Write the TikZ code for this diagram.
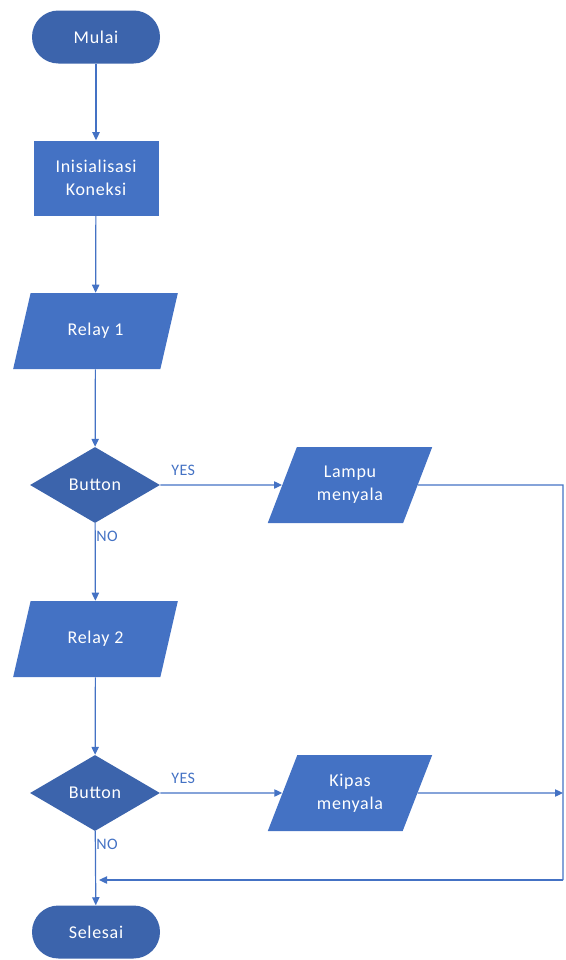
\documentclass[tikz,border=0pt]{standalone}
\usepackage{fontspec}
\setmainfont{Carlito}
\usetikzlibrary{shapes.geometric,arrows.meta}
\definecolor{procblue}{HTML}{4472C4}
\definecolor{darkblue}{HTML}{3C64AC}
\definecolor{lineblue}{HTML}{4472C4}
\tikzset{
  x=0.75pt,y=-0.75pt,
  base/.style={text=white,font=\fontsize{13.5}{17}\selectfont\addfontfeature{LetterSpace=4},align=center,inner sep=0pt},
  term/.style={base,fill=darkblue,rounded corners=19.8pt,minimum width=96pt,minimum height=39.75pt},
  proc/.style={base,fill=procblue,minimum width=93.75pt,minimum height=56.25pt},
  io/.style={base,fill=procblue,trapezium,trapezium left angle=64,trapezium right angle=116,trapezium stretches=true,minimum width=123.75pt,minimum height=57pt},
  dec/.style={base,fill=darkblue,diamond,minimum width=97.5pt,minimum height=57pt},
  conn/.style={draw=lineblue,line width=0.9pt,-{Triangle[length=6pt,width=5.5pt]}},
  line/.style={draw=lineblue,line width=0.9pt},
  lbl/.style={text=lineblue,font=\fontsize{12}{14}\selectfont\addfontfeature{LetterSpace=3},inner sep=0pt,anchor=west}
}
\begin{document}
\begin{tikzpicture}
\useasboundingbox (0,0) rectangle (566,960);
\node[term] (mulai) at (96,37) {Mulai};
\node[proc] (init) at (96,178) {Inisialisasi\\Koneksi};
\node[io] (relay1) at (95.5,331) {Relay 1};
\node[dec] (btn1) at (95,485) {Button};
\node[io] (lampu) at (350,485) {Lampu\\menyala};
\node[io] (relay2) at (95.5,639) {Relay 2};
\node[dec] (btn2) at (95,793) {Button};
\node[io] (kipas) at (350,793) {Kipas\\menyala};
\node[term] (selesai) at (96,932) {Selesai};

\coordinate (r1) at (563,485);
\coordinate (k1) at (563,793);
\coordinate (r2) at (563,880);
\coordinate (m) at (99,880);

\draw[conn] (mulai) -- (init);
\draw[conn] (init) -- (relay1);
\draw[conn] (relay1) -- (btn1);
\draw[conn] (btn1) -- (lampu);
\draw[conn] (btn1) -- (relay2);
\draw[conn] (relay2) -- (btn2);
\draw[conn] (btn2) -- (kipas);
\draw[conn] (btn2) -- (selesai);
\draw[line] (lampu.east) -- (r1) -- (r2);
\draw[conn] (r2) -- (m);
\draw[conn] (kipas.east) -- (k1);

\node[lbl] (yes1) at (171,470) {YES};
\node[lbl] (no1) at (96,536) {NO};
\node[lbl] (yes2) at (171,778) {YES};
\node[lbl] (no2) at (96,844) {NO};
\end{tikzpicture}
\end{document}
